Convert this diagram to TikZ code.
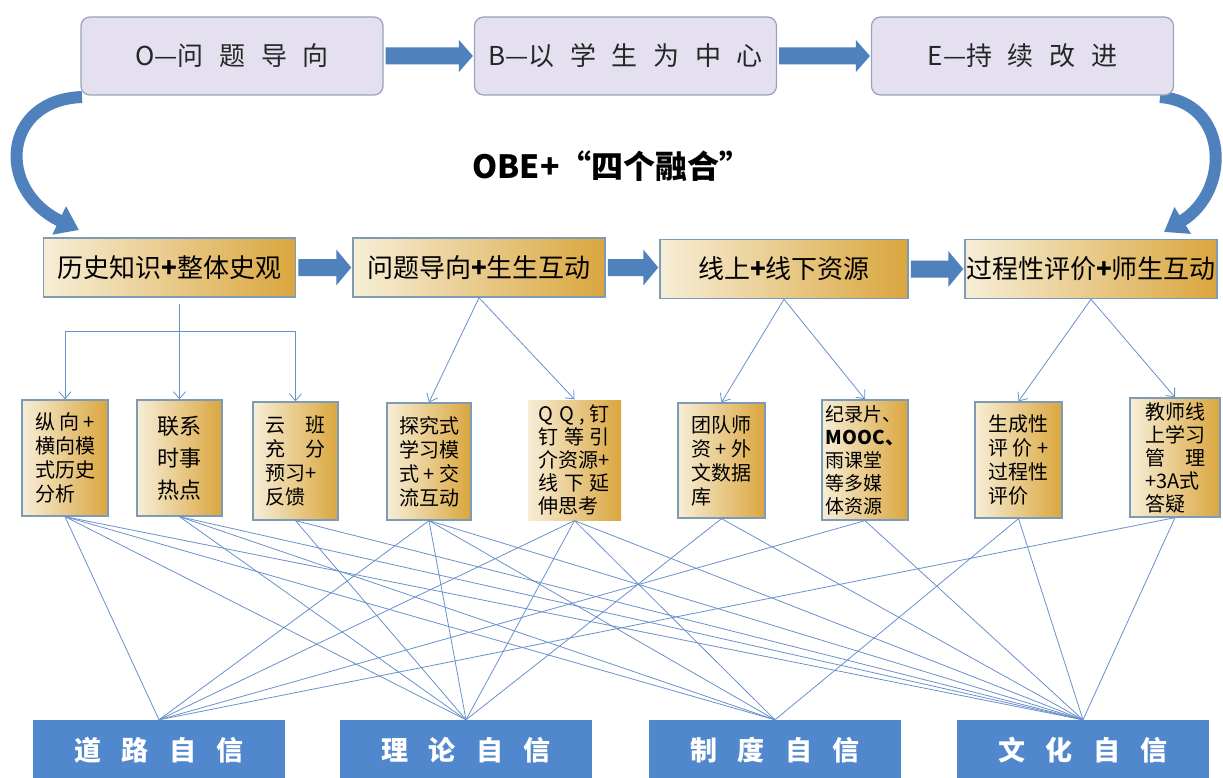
\documentclass[tikz,border=0pt]{standalone}
\usepackage{fontspec}
\setmainfont{Noto Sans CJK SC}
\usetikzlibrary{arrows.meta,calc}
\definecolor{topfill}{RGB}{229,224,240}
\definecolor{topedge}{RGB}{150,165,185}
\definecolor{arrowblue}{RGB}{79,129,189}
\definecolor{goldL}{RGB}{247,238,215}
\definecolor{goldR}{RGB}{218,166,62}
\definecolor{boxedge}{RGB}{125,155,180}
\definecolor{meshblue}{RGB}{105,145,205}
\definecolor{basefill}{RGB}{80,135,205}
\newcommand\barrow[4]{\path[fill=arrowblue] let \p1=(#1.east), \p2=(#2.west) in
  (\x1+2pt,\y1+8.5pt) -- (\x2-#3,\y1+8.5pt) -- (\x2-#3,\y1+#4) -- (\x2-1pt,\y1)
  -- (\x2-#3,\y1-#4) -- (\x2-#3,\y1-8.5pt) -- (\x1+2pt,\y1-8.5pt) -- cycle;}
\newcommand\gp{\hspace{0.6em}}
\newcommand\bgp{\hspace{0.75em}}
\begin{document}
\begin{tikzpicture}[x=1pt,y=-1pt,
  topbox/.style={draw=topedge, fill=topfill, line width=1.2pt, rounded corners=9pt,
    minimum width=302pt, minimum height=78pt, inner sep=0pt, text=black!85,
    font=\fontsize{26}{30}\selectfont},
  midbox/.style={draw=boxedge, line width=1.5pt, left color=goldL, right color=goldR,
    minimum width=252pt, minimum height=59pt, inner sep=0pt,
    font=\fontsize{26}{30}\selectfont},
  smallbox/.style={draw=boxedge, line width=1.3pt, left color=goldL, right color=goldR,
    inner sep=0pt, align=left, font=\fontsize{20}{24}\selectfont},
  basebox/.style={fill=basefill, minimum width=252pt, minimum height=60pt, inner sep=0pt,
    text=white, font=\fontsize{27}{30}\selectfont\bfseries},
  mesh/.style={draw=meshblue, line width=0.8pt},
  thinarrow/.style={draw=meshblue, line width=0.8pt, -{Straight Barb[length=7pt,width=12pt]}},
  blockarc/.style={draw=arrowblue, line width=12pt, -{Triangle[length=22pt,width=30pt]}}
]
\useasboundingbox (0,0) rectangle (1223,778);
\fill[white] (0,0) rectangle (1223,778);

% curved arrows (drawn first so boxes sit on top)
\coordinate (Osw) at (81,95);
\coordinate (Ese) at (1174,95);
\coordinate (h1nw) at (43,238);
\coordinate (h4ne) at (1217,240);
\draw[blockarc] ($(Osw)+(1,2)$) .. controls (2,100) and (-4,190) .. ($(h1nw)+(36,-8)$);
\draw[blockarc] ($(Ese)+(-14,2)$) .. controls (1228,102) and (1232,190) .. ($(h4ne)+(-53,-8)$);

% top row
\node[topbox] (O) at (232,56) {O—问\gp 题\gp 导\gp 向};
\node[topbox] (B) at (625.5,56) {B—以\gp 学\gp 生\gp 为\gp 中\gp 心};
\node[topbox] (E) at (1022.5,56) {E—持\gp 续\gp 改\gp 进};
\barrow{O}{B}{15pt}{16pt}
\barrow{B}{E}{15pt}{16pt}

% title
\node[font=\fontsize{32}{36}\selectfont\bfseries] (T) at (612,166) {OBE+“四个融合”};

% middle row
\node[midbox] (h1) at (169.5,267.5) {历史知识{\bfseries +}整体史观};
\node[midbox] (h2) at (479,267.5) {问题导向{\bfseries +}生生互动};
\node[midbox, minimum width=248pt] (h3) at (784,269) {线上{\bfseries +}线下资源};
\node[midbox] (h4) at (1091,269) {过程性评价{\bfseries +}师生互动};
\barrow{h1}{h2}{16pt}{18pt}
\barrow{h2}{h3}{16pt}{18pt}
\barrow{h3}{h4}{16pt}{18pt}

% small boxes
\node[smallbox, minimum width=86pt, minimum height=116pt] (s1) at (65,458)
  {\makebox[3em]{纵\hfill 向\hfill +}\\横向模\\式历史\\分析};
\node[smallbox, minimum width=85pt, minimum height=116pt, font=\fontsize{22}{32}\selectfont] (s2) at (179.5,458)
  {联系\\时事\\热点};
\node[smallbox, minimum width=85pt, minimum height=118pt] (s3) at (295.5,461)
  {\makebox[3em]{云\hfill 班}\\\makebox[3em]{充\hfill 分}\\预习+\\反馈};
\node[smallbox, minimum width=84pt, minimum height=117pt] (s4) at (429,461.5)
  {探究式\\学习模\\\makebox[3em]{式\hfill +\hfill 交}\\流互动};
\node[smallbox, draw=none, minimum width=93pt, minimum height=120pt, font=\fontsize{20}{23}\selectfont] (s5) at (574.5,460)
  {\makebox[3.55em]{Q\hfill Q\hfill ,\hfill 钉}\\\makebox[3.55em]{钉\hfill 等\hfill 引}\\介资源+\\\makebox[3.55em]{线\hfill 下\hfill 延}\\伸思考};
\node[smallbox, minimum width=87pt, minimum height=115pt] (s6) at (721.5,460.5)
  {\makebox[3em]{团\hfill 队\hfill 师}\\\makebox[3em]{资\hfill +\hfill 外}\\\makebox[3em]{文\hfill 数\hfill 据}\\库};
\node[smallbox, minimum width=86pt, minimum height=120pt, font=\fontsize{19}{23}\selectfont] (s7) at (865,460)
  {纪录片、\\{\bfseries MOOC、}\\雨课堂\\等多媒\\体资源};
\node[smallbox, minimum width=87pt, minimum height=116pt] (s8) at (1018.5,460)
  {生成性\\\makebox[3em]{评\hfill 价\hfill +}\\过程性\\评价};
\node[smallbox, minimum width=90pt, minimum height=119pt, font=\fontsize{20}{23}\selectfont] (s9) at (1175,457.5)
  {教师线\\上学习\\\makebox[3em]{管\hfill 理}\\+3A式\\答疑};

% connectors middle -> small
\coordinate (lev) at (0,331);
\coordinate (bl) at (s1.north |- lev);
\coordinate (brr) at (s3.north |- lev);
\draw[mesh] (bl) -- (brr);
\draw[thinarrow] (bl) -- (s1.north);
\draw[thinarrow] (brr) -- (s3.north);
\draw[thinarrow] ($(s2.north |- h1.south)+(0,6)$) -- (s2.north);
\draw[thinarrow] (h2.south) -- (s4.north);
\draw[thinarrow] (h2.south) -- (s5.north);
\draw[thinarrow] (h3.south) -- (s6.north);
\draw[thinarrow] (h3.south) -- (s7.north);
\draw[thinarrow] (h4.south) -- (s8.north);
\draw[thinarrow] (h4.south) -- (s9.north);

% bottom boxes
\node[basebox] (d1) at (159,750) {道\bgp 路\bgp 自\bgp 信};
\node[basebox] (d2) at (466,750) {理\bgp 论\bgp 自\bgp 信};
\node[basebox] (d3) at (775,750) {制\bgp 度\bgp 自\bgp 信};
\node[basebox] (d4) at (1083,750) {文\bgp 化\bgp 自\bgp 信};

% mesh
\foreach \s/\d in {s1/d1,s1/d2,s1/d3,s1/d4,
                   s2/d2,s2/d3,s2/d4,
                   s3/d2,s3/d4,
                   s4/d1,s4/d2,s4/d3,s4/d4,
                   s5/d1,s5/d2,s5/d3,s5/d4,
                   s6/d2,s6/d4,
                   s7/d1,s7/d4,
                   s8/d3,s8/d4,
                   s9/d1,s9/d4}
  \draw[mesh] (\s.south) -- (\d.north);
\end{tikzpicture}
\end{document}
